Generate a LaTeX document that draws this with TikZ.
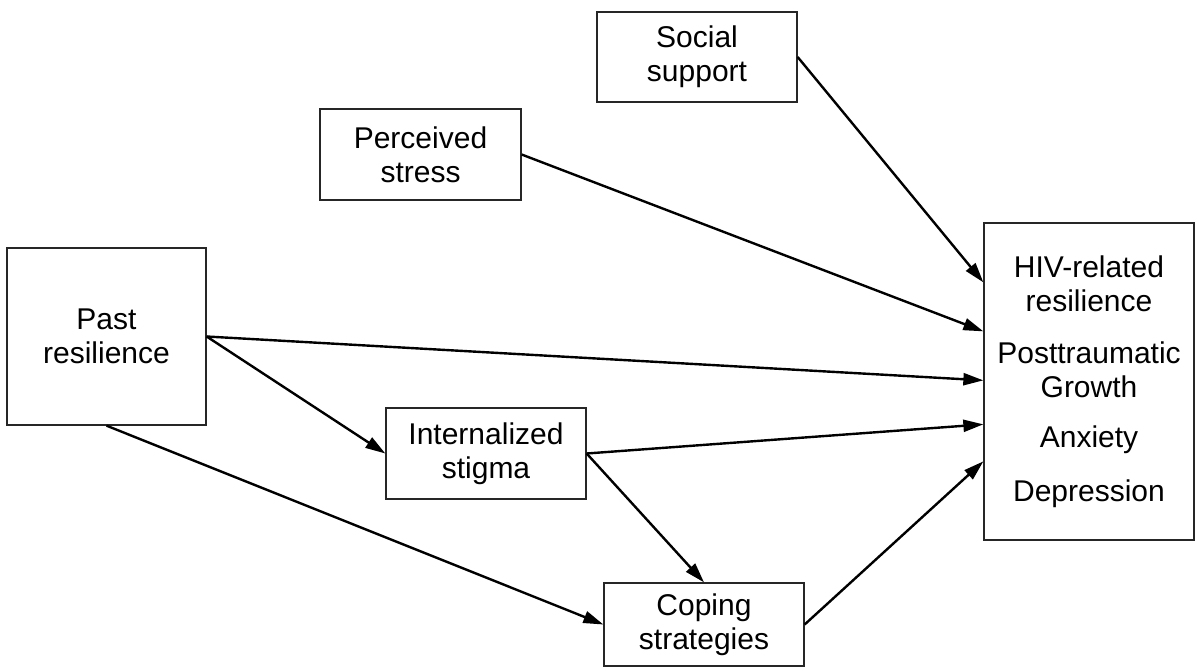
\documentclass[tikz,border=0pt]{standalone}
\usepackage{fontspec}
\setmainfont{Liberation Sans}
\usetikzlibrary{arrows.meta,calc}
\begin{document}
\begin{tikzpicture}[x=1pt,y=-1pt,
  box/.style={draw=black!85,line width=1.3pt,fill=white,inner sep=0pt,
    align=center,font=\fontsize{30}{34}\selectfont},
  link/.style={line width=2.4pt,-{Triangle[length=20pt,width=12pt]}}]
\useasboundingbox (0,0) rectangle (1201,671);

% variables
\node[box,minimum width=200pt,minimum height=90pt] (soc) at (697,57) {Social\\support};
\node[box,minimum width=201pt,minimum height=91pt] (per) at (420.5,154.5) {Perceived\\stress};
\node[box,minimum width=199pt,minimum height=177pt] (past) at (106.5,336.5) {Past\\resilience};
\node[box,minimum width=200pt,minimum height=91pt] (intz) at (486,453.5) {Internalized\\stigma};
\node[box,minimum width=200pt,minimum height=83pt] (cop) at (704,624.5) {Coping\\strategies};
\node[box,minimum width=210pt,minimum height=317pt] (out) at (1089,381.5)
  {HIV-related\\resilience\\[18pt]Posttraumatic\\Growth\\[16pt]Anxiety\\[20pt]Depression};

% arrow ends on the outcome box
\coordinate (o1) at ([yshift=-60pt]out.north west);
\coordinate (o2) at ([yshift=-109pt]out.north west);
\coordinate (o3) at ([yshift=-158pt]out.north west);
\coordinate (o4) at ([yshift=-202pt]out.north west);
\coordinate (o5) at ([yshift=-239pt]out.north west);

% paths
\draw[link] (soc.east) -- (o1);
\draw[link] (per.east) -- (o2);
\draw[link] (past.east) -- (o3);
\draw[link] (past.east) -- (intz.west);
\draw[link] (past.south) -- (cop.west);
\draw[link] (intz.east) -- (o4);
\draw[link] (intz.east) -- (cop.north);
\draw[link] (cop.east) -- (o5);
\end{tikzpicture}
\end{document}
